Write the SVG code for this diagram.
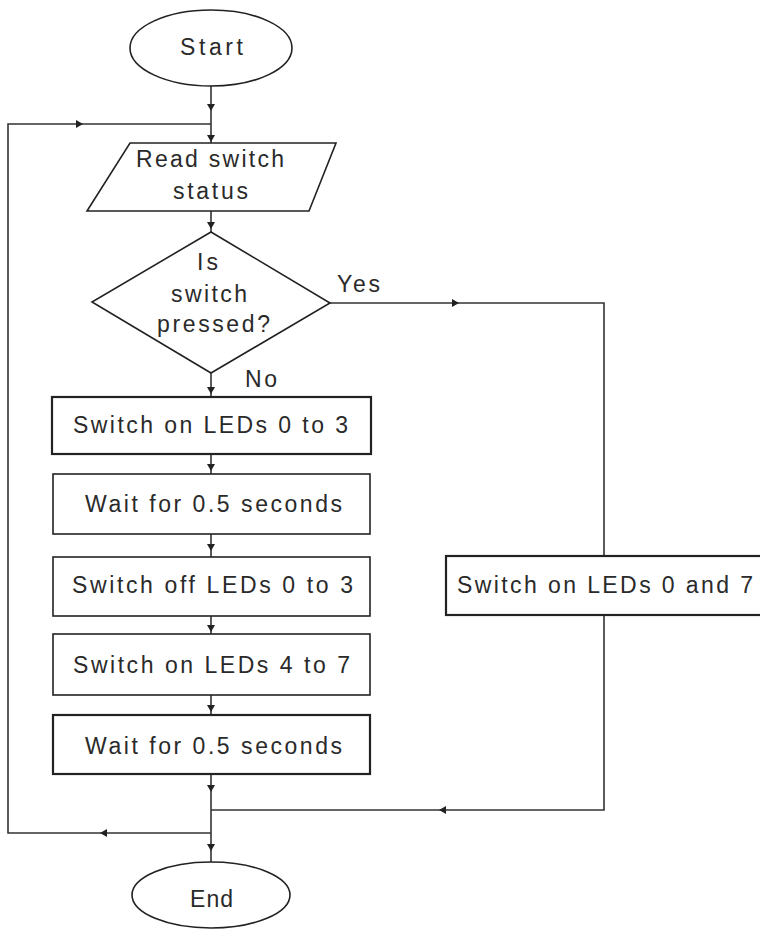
<svg xmlns="http://www.w3.org/2000/svg" width="760" height="930" viewBox="0 0 760 930">
<style>
.shape{fill:#fff;stroke:#222;stroke-width:1.6}
.thick{stroke-width:2.2}
.conn{fill:none;stroke:#333;stroke-width:1.6}
.arr{fill:#222;stroke:none}
text{font-family:"Liberation Sans",Arial,sans-serif;font-size:23px;fill:#2a2a2a}
</style>
<defs>
<path id="ad" d="M-4,-7 L4,-7 L0,0 Z"/>
</defs>
<rect width="760" height="930" fill="#fff"/>
<g id="connectors">
<path class="conn" d="M211,86 V143"/>
<path class="conn" d="M211,833 H8 V124 H211"/>
<path class="conn" d="M211,211 V232"/>
<path class="conn" d="M211,373 V397"/>
<path class="conn" d="M211,454 V474"/>
<path class="conn" d="M211,534 V557"/>
<path class="conn" d="M211,616 V634"/>
<path class="conn" d="M211,695 V715"/>
<path class="conn" d="M211,774 V862"/>
<path class="conn" d="M330,303 H604 V556"/>
<path class="conn" d="M604,615 V810 H211"/>
<use href="#ad" class="arr" x="211" y="111"/>
<use href="#ad" class="arr" x="211" y="142"/>
<use href="#ad" class="arr" x="211" y="229"/>
<use href="#ad" class="arr" x="211" y="394"/>
<use href="#ad" class="arr" x="211" y="471"/>
<use href="#ad" class="arr" x="211" y="551"/>
<use href="#ad" class="arr" x="211" y="632"/>
<use href="#ad" class="arr" x="211" y="712"/>
<use href="#ad" class="arr" x="211" y="792"/>
<use href="#ad" class="arr" x="211" y="851"/>
<use href="#ad" class="arr" transform="translate(83,124) rotate(-90)"/>
<use href="#ad" class="arr" transform="translate(459,303) rotate(-90)"/>
<use href="#ad" class="arr" transform="translate(439,810) rotate(90)"/>
<use href="#ad" class="arr" transform="translate(100,833) rotate(90)"/>
<text x="337" y="292" textLength="43" lengthAdjust="spacing">Yes</text>
<text x="245" y="387" textLength="32" lengthAdjust="spacing">No</text>
</g>
<g id="start">
<ellipse class="shape" cx="211" cy="48" rx="81" ry="38"/>
<text x="180" y="55" textLength="63" lengthAdjust="spacing">Start</text>
</g>
<g id="read">
<polygon class="shape" points="130,143 336,143 309,211 87,211"/>
<text x="136" y="167" textLength="148" lengthAdjust="spacing">Read switch</text>
<text x="173" y="199" textLength="75" lengthAdjust="spacing">status</text>
</g>
<g id="decision">
<polygon class="shape" points="211,232 330,303 211,373 92,302"/>
<text x="197" y="270" textLength="21" lengthAdjust="spacing">Is</text>
<text x="171" y="302" textLength="76" lengthAdjust="spacing">switch</text>
<text x="157" y="332" textLength="113" lengthAdjust="spacing">pressed?</text>
</g>
<g id="on03">
<rect class="shape thick" x="52" y="397" width="319" height="57"/>
<text x="73" y="433" textLength="275" lengthAdjust="spacing">Switch on LEDs 0 to 3</text>
</g>
<g id="wait1">
<rect class="shape" x="53" y="474" width="317" height="60"/>
<text x="85" y="512" textLength="257" lengthAdjust="spacing">Wait for 0.5 seconds</text>
</g>
<g id="off03">
<rect class="shape" x="53" y="557" width="317" height="59"/>
<text x="72" y="593" textLength="281" lengthAdjust="spacing">Switch off LEDs 0 to 3</text>
</g>
<g id="on47">
<rect class="shape" x="53" y="634" width="317" height="61"/>
<text x="73" y="673" textLength="277" lengthAdjust="spacing">Switch on LEDs 4 to 7</text>
</g>
<g id="wait2">
<rect class="shape thick" x="53" y="715" width="317" height="59"/>
<text x="85" y="754" textLength="257" lengthAdjust="spacing">Wait for 0.5 seconds</text>
</g>
<g id="on07">
<rect class="shape thick" x="446" y="556" width="320" height="59"/>
<text x="457" y="593" textLength="296" lengthAdjust="spacing">Switch on LEDs 0 and 7</text>
</g>
<g id="end">
<ellipse class="shape" cx="211" cy="895" rx="79" ry="33"/>
<text x="190" y="907" textLength="43" lengthAdjust="spacing">End</text>
</g>
</svg>
